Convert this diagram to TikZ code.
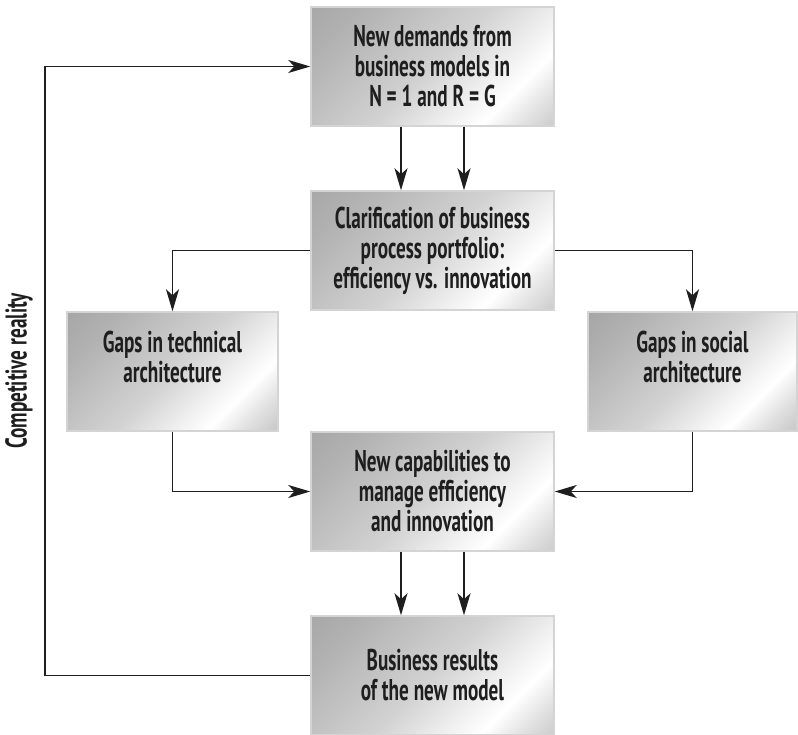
\documentclass[tikz,border=0pt]{standalone}
\usepackage{fontspec}
\setmainfont{PT Sans}[FakeStretch=0.64]
\usetikzlibrary{arrows.meta,calc}

\definecolor{ink}{HTML}{1E1E1E}
\definecolor{mA}{HTML}{8E8E8E}
\definecolor{mB}{HTML}{B0B0B0}
\definecolor{mC}{HTML}{D2D2D2}
\definecolor{mD}{HTML}{F4F4F4}
\definecolor{mE}{HTML}{E2E2E2}
\definecolor{mF}{HTML}{B8B8B8}
\definecolor{mG}{HTML}{A0A0A0}
\definecolor{rim}{HTML}{D4D4D4}

% brushed-metal gradient; the box itself covers roughly 35bp..65bp
\pgfdeclarehorizontalshading{metal}{100bp}{%
  color(0bp)=(mA); color(34.6bp)=(mA); color(43.8bp)=(mB); color(50bp)=(mC);
  color(53.7bp)=(mD); color(55bp)=(white); color(56.8bp)=(mE);
  color(59.9bp)=(mF); color(65.4bp)=(mG); color(100bp)=(mG)}

\tikzset{
  boxfont/.style={font=\bfseries\fontsize{30}{30}\selectfont},
  metalbox/.style={rectangle, draw=rim, line width=1.5pt, minimum height=119pt,
    inner sep=0pt, align=center, text=ink, boxfont,
    path picture={
      \shade[shading=metal, shading angle=-45]
        let \p1=(path picture bounding box.south west),
            \p2=(path picture bounding box.north east),
            \n1={\x2-\x1} in
        ($(path picture bounding box.center)+(-\n1,-2.14*\n1)$) rectangle
        ($(path picture bounding box.center)+(\n1,2.14*\n1)$);
    }},
  arr/.style={draw=ink, line width=1.8pt,
    -{Stealth[length=22pt,width=13pt,inset=6pt]}}
}

\begin{document}
\begin{tikzpicture}[x=1pt,y=-1pt]
  \useasboundingbox[fill=white] (0,0) rectangle (798,735);

  % boxes
  \node[metalbox, minimum width=243pt] (demand) at (432.5,66.5)
    {New demands from\\business models in\\N = 1 and R = G};
  \node[metalbox, minimum width=243pt] (clar) at (432.5,250.5)
    {Clarification of business\\process portfolio:\\efficiency vs. innovation};
  \node[metalbox, minimum width=211pt] (tech) at (172.5,371.5)
    {Gaps in technical\\architecture\\[0pt]};
  \node[metalbox, minimum width=209pt] (soc) at (692.5,371.5)
    {Gaps in social\\architecture\\[0pt]};
  \node[metalbox, minimum width=243pt] (cap) at (432.5,491.5)
    {New capabilities to\\manage efficiency\\and innovation};
  \node[metalbox, minimum width=243pt] (res) at (432.5,675.5)
    {Business results\\of the new model};

  % side label of the feedback loop
  \node[rotate=90, text=ink, boxfont] (loop) at (19,371) {Competitive reality};

  % connectors
  \draw[arr] ([xshift=-31.5pt]demand.south) -- ([xshift=-31.5pt]clar.north);
  \draw[arr] ([xshift=31.5pt]demand.south) -- ([xshift=31.5pt]clar.north);
  \draw[arr] (clar.west) -| (tech.north);
  \draw[arr] (clar.east) -| (soc.north);
  \draw[arr] (tech.south) |- (cap.west);
  \draw[arr] (soc.south) |- (cap.east);
  \draw[arr] ([xshift=-31.5pt]cap.south) -- ([xshift=-31.5pt]res.north);
  \draw[arr] ([xshift=31.5pt]cap.south) -- ([xshift=31.5pt]res.north);

  \coordinate (fb) at (45,675.5);
  \draw[arr] (res.west) -- (fb) |- (demand.west);
\end{tikzpicture}
\end{document}
